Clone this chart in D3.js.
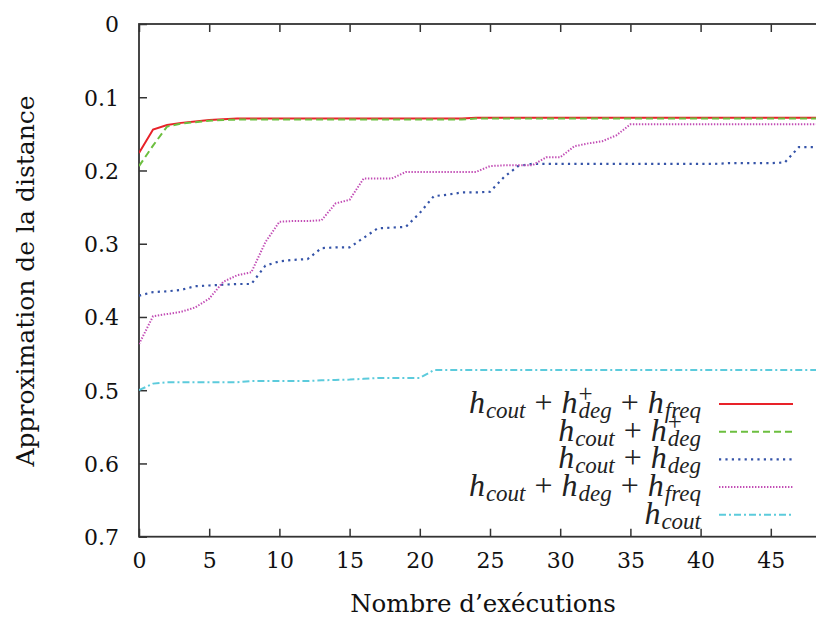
<!DOCTYPE html>
<html><head><meta charset="utf-8">
<script src="https://cdn.jsdelivr.net/npm/d3@7"></script>
<style>
html,body{margin:0;padding:0;background:#fff;}
svg{display:block;}
</style></head>
<body>
<svg id="chart" width="816" height="618"></svg>
<script>
// ---- data ----
const runs = d3.range(0, 50); // executions 0..49
const hCoutDegPlusFreq = [0.176,0.144,0.138,0.135,0.133,0.131,0.130,0.129,0.129,0.129,
  0.129,0.129,0.129,0.129,0.129,0.129,0.129,0.129,0.129,0.129,
  0.129,0.129,0.129,0.129,0.128,0.128,0.128,0.128,0.128,0.128,
  0.128,0.128,0.128,0.128,0.128,0.128,0.128,0.128,0.128,0.128,
  0.128,0.128,0.128,0.128,0.128,0.128,0.128,0.128,0.128,0.128];
const hCoutDegPlus = [0.194,0.166,0.140,0.136,0.134,0.132,0.131,0.1305,0.1305,0.1305,
  0.1305,0.1305,0.1305,0.1305,0.1305,0.1305,0.1305,0.1305,0.1305,0.1305,
  0.1305,0.1305,0.1305,0.1305,0.129,0.129,0.129,0.129,0.129,0.129,
  0.129,0.129,0.129,0.129,0.129,0.129,0.129,0.129,0.129,0.129,
  0.129,0.129,0.129,0.129,0.129,0.129,0.129,0.129,0.129,0.129];
const hCoutDeg = [0.371,0.366,0.365,0.363,0.358,0.357,0.356,0.355,0.355,0.330,
  0.324,0.322,0.321,0.306,0.305,0.305,0.292,0.279,0.278,0.277,
  0.258,0.235,0.233,0.230,0.230,0.229,0.209,0.194,0.191,0.191,
  0.191,0.191,0.191,0.191,0.191,0.191,0.191,0.191,0.191,0.191,
  0.191,0.191,0.190,0.190,0.190,0.190,0.189,0.168,0.168,0.168];
const hCoutDegFreq = [0.437,0.399,0.396,0.393,0.387,0.375,0.352,0.343,0.339,0.298,
  0.270,0.269,0.269,0.268,0.245,0.240,0.211,0.211,0.211,0.202,
  0.202,0.202,0.202,0.202,0.202,0.194,0.193,0.193,0.193,0.182,
  0.182,0.167,0.163,0.160,0.152,0.137,0.137,0.137,0.137,0.137,
  0.137,0.137,0.137,0.137,0.137,0.137,0.137,0.137,0.137,0.137];
const hCout = [0.500,0.491,0.489,0.489,0.489,0.489,0.489,0.489,0.4875,0.4875,
  0.4875,0.4875,0.4875,0.4865,0.486,0.4855,0.4845,0.4833,0.4833,0.4833,
  0.4833,0.4725,0.4725,0.4725,0.4725,0.4725,0.4725,0.4725,0.4725,0.4725,
  0.4725,0.4725,0.4725,0.4725,0.4725,0.4725,0.4725,0.4725,0.4725,0.4725,
  0.4725,0.4725,0.4725,0.4725,0.4725,0.4725,0.4725,0.4725,0.4725,0.4725];
const xTicks = [0,5,10,15,20,25,30,35,40,45];
const yTicks = [0,0.1,0.2,0.3,0.4,0.5,0.6,0.7];
const xTitle = "Nombre d\u2019exécutions";
const yTitle = "Approximation de la distance";

// legend entries: label as math pieces
const legendItems = [
  {key:"red",   values:hCoutDegPlusFreq, label:[{h:"cout"},{op:"+"},{h:"deg",sup:"+"},{op:"+"},{h:"freq"}]},
  {key:"green", values:hCoutDegPlus,     label:[{h:"cout"},{op:"+"},{h:"deg",sup:"+"}]},
  {key:"blue",  values:hCoutDeg,         label:[{h:"cout"},{op:"+"},{h:"deg"}]},
  {key:"pink",  values:hCoutDegFreq,     label:[{h:"cout"},{op:"+"},{h:"deg"},{op:"+"},{h:"freq"}]},
  {key:"cyan",  values:hCout,            label:[{h:"cout"}]}
];
const styles = {
  red:   {color:"#e82229", dash:null, width:2},
  green: {color:"#6cbf3f", dash:"7,4", width:2},
  blue:  {color:"#3453a8", dash:"2.2,4.2", width:2.2},
  pink:  {color:"#c24db5", dash:"1.4,1.6", width:2},
  cyan:  {color:"#5ccbdc", dash:"7,3,2,3", width:2}
};

// ---- layout ----
const svg = d3.select("#chart");
const L = 139, T = 24, B = 536.7, pxPerUnit = 14.04;
const x = d3.scaleLinear().domain([0, 49]).range([L, L + 49 * pxPerUnit]);
const y = d3.scaleLinear().domain([0, 0.7]).range([T, B]);
const R = x(49);

const serif = "'DejaVu Serif', serif";
const axisColor = "#333";

svg.append("defs").append("clipPath").attr("id","clip")
  .append("rect").attr("x", L).attr("y", T).attr("width", R - L).attr("height", B - T);

// ticks (inward) using axes
const tickLen = 8;
const gx = svg.append("g").attr("transform", `translate(0,${B})`)
  .call(d3.axisBottom(x).tickValues(xTicks).tickSize(-tickLen).tickPadding(16).tickFormat(d3.format("d")));
const gxTop = svg.append("g").attr("transform", `translate(0,${T})`)
  .call(d3.axisTop(x).tickValues(xTicks).tickSize(-tickLen).tickFormat(""));
const gy = svg.append("g").attr("transform", `translate(${L},0)`)
  .call(d3.axisLeft(y).tickValues(yTicks).tickSize(-tickLen).tickPadding(20).tickFormat(d => d === 0 ? "0" : d3.format(".1f")(d)));
[gx, gxTop, gy].forEach(g => {
  g.select(".domain").remove();
  g.selectAll(".tick line").attr("stroke", axisColor).attr("stroke-width", 1.5);
  g.selectAll(".tick text").attr("font-family", serif).attr("font-size", 22).attr("fill", "#111");
});
gy.selectAll(".tick text").attr("dy", "0.36em");
gx.selectAll(".tick text").attr("dy", "0.71em");

// frame
svg.append("rect").attr("x", L).attr("y", T).attr("width", R - L).attr("height", B - T)
  .attr("fill", "none").attr("stroke", axisColor).attr("stroke-width", 1.8);

// lines
const line = d3.line().x((d, i) => x(runs[i])).y(d => y(d));
const plot = svg.append("g").attr("clip-path", "url(#clip)");
legendItems.forEach(it => {
  const s = styles[it.key];
  plot.append("path").datum(it.values)
    .attr("d", line).attr("fill", "none")
    .attr("stroke", s.color).attr("stroke-width", s.width)
    .attr("stroke-dasharray", s.dash);
});

// axis titles
svg.append("text").attr("x", 483).attr("y", 612).attr("text-anchor", "middle")
  .attr("font-family", serif).attr("font-size", 24.5).attr("fill", "#111").text(xTitle);
svg.append("text").attr("transform", "translate(34,281) rotate(-90)").attr("text-anchor", "middle")
  .attr("font-family", serif).attr("font-size", 25).attr("fill", "#111").text(yTitle);

// legend
const mathFont = "'Liberation Serif', serif";
const mainSize = 32, subSize = 23;
const legendRight = 701, sampleX0 = 719, sampleX1 = 793;
const legendY0 = 404, legendStep = 27.7;
const leg = svg.append("g");
legendItems.forEach((it, row) => {
  const ly = legendY0 + row * legendStep;
  const base = ly + 9;
  const t = leg.append("text").attr("font-family", mathFont).attr("fill", "#222");
  let cx = 0;
  it.label.forEach(p => {
    if (p.op) {
      cx += 9;
      const s = t.append("tspan").attr("x", cx).attr("y", base)
        .attr("font-size", mainSize).text(p.op);
      cx += s.node().getComputedTextLength() + 9;
    } else {
      const hs = t.append("tspan").attr("x", cx).attr("y", base)
        .attr("font-style", "italic").attr("font-size", mainSize).text("h");
      cx += hs.node().getComputedTextLength() + 1;
      const sb = t.append("tspan").attr("x", cx).attr("y", base + 5)
        .attr("font-style", "italic").attr("font-size", subSize).text(p.h);
      let w = sb.node().getComputedTextLength();
      if (p.sup) {
        const sp = t.append("tspan").attr("x", cx).attr("y", base - 11)
          .attr("font-size", subSize + 2).text(p.sup);
        w = Math.max(w, sp.node().getComputedTextLength());
      }
      cx += w;
    }
  });
  t.attr("transform", `translate(${legendRight - cx},0)`);
  const s = styles[it.key];
  leg.append("line").attr("x1", sampleX0).attr("x2", sampleX1).attr("y1", ly).attr("y2", ly)
    .attr("stroke", s.color).attr("stroke-width", s.width).attr("stroke-dasharray", s.dash);
});
</script>
</body></html>
